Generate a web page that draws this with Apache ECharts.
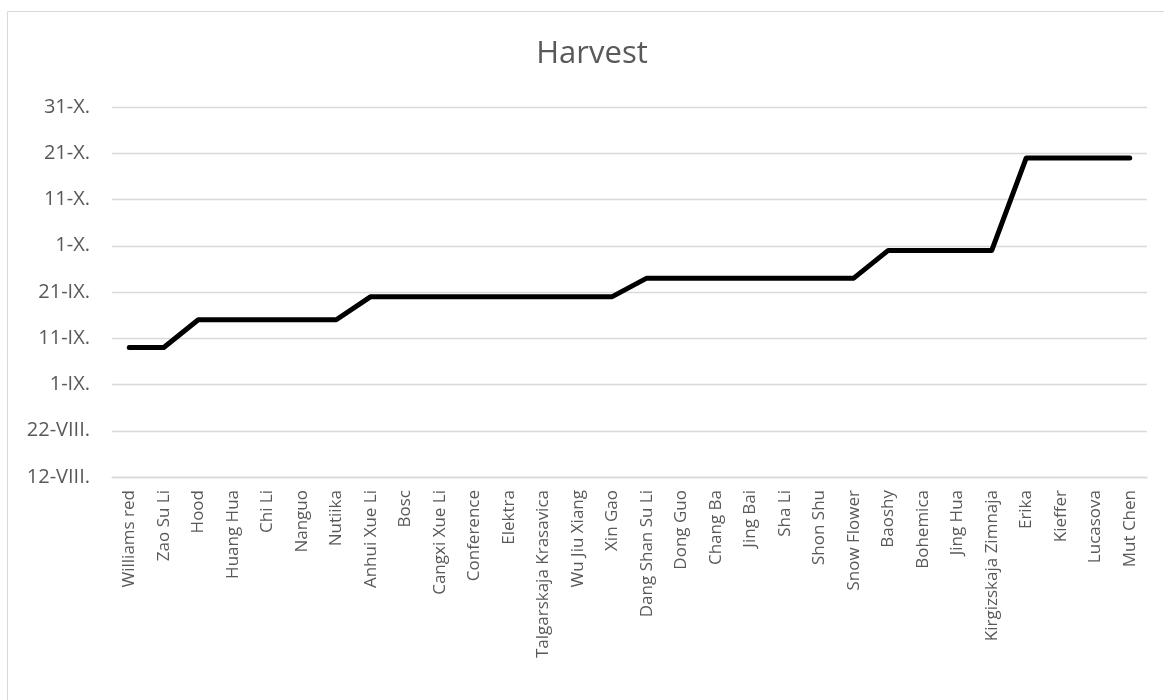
<!DOCTYPE html>
<html>
<head>
<meta charset="utf-8">
<title>Harvest</title>
<script src="https://cdn.jsdelivr.net/npm/echarts@6/dist/echarts.min.js"></script>
<style>
  html, body { margin: 0; padding: 0; background: #ffffff; }
  #chart { width: 1164px; height: 700px; }
</style>
</head>
<body>
<div id="chart"></div>
<script>
// Pear varieties in order of ripening
const varieties = [
  'Williams red', 'Zao Su Li', 'Hood', 'Huang Hua', 'Chi Li', 'Nanguo', 'Nutiika',
  'Anhui Xue Li', 'Bosc', 'Cangxi Xue Li', 'Conference', 'Elektra',
  'Talgarskaja Krasavica', 'Wu Jiu Xiang', 'Xin Gao', 'Dang Shan Su Li',
  'Dong Guo', 'Chang Ba', 'Jing Bai', 'Sha Li', 'Shon Shu', 'Snow Flower',
  'Baoshy', 'Bohemica', 'Jing Hua', 'Kirgizskaja Zimnaja', 'Erika', 'Kieffer',
  'Lucasova', 'Mut Chen'
];

// Harvest date, counted in days after 12 August
const harvestDay = [
  28, 28, 34, 34, 34, 34, 34,
  39, 39, 39, 39, 39, 39, 39, 39,
  43, 43, 43, 43, 43, 43, 43,
  49, 49, 49, 49,
  69, 69, 69, 69
];

// Date labels for the value axis, one every 10 days starting at 12 August
const dateTicks = ['12-VIII.', '22-VIII.', '1-IX.', '11-IX.', '21-IX.', '1-X.', '11-X.', '21-X.', '31-X.'];

const textColor = '#595959';
const gridColor = '#d9d9d9';
const fontFamily = '"Open Sans", "Noto Sans", sans-serif';

const chart = echarts.init(document.getElementById('chart'), null, { renderer: 'canvas' });

chart.setOption({
  backgroundColor: '#ffffff',
  animation: false,
  title: {
    text: 'Harvest',
    left: 587,
    top: 34,
    textAlign: 'center',
    textStyle: { color: textColor, fontSize: 31, fontWeight: 'normal', fontFamily: fontFamily }
  },
  graphic: [{
    type: 'rect',
    silent: true,
    z: -1,
    shape: { x: 7.5, y: 11.5, width: 1170, height: 700 },
    style: { fill: 'none', stroke: gridColor, lineWidth: 1 }
  }],
  grid: { left: 112, right: 17, top: 107, height: 370, containLabel: false },
  xAxis: {
    type: 'category',
    data: varieties,
    boundaryGap: true,
    axisLine: { show: true, lineStyle: { color: gridColor, width: 1.3 } },
    axisTick: { show: false },
    axisLabel: {
      interval: 0,
      rotate: 90,
      margin: 13,
      color: textColor,
      fontSize: 17,
      fontFamily: fontFamily
    }
  },
  yAxis: {
    type: 'value',
    min: 0,
    max: 80,
    interval: 10,
    axisLine: { show: false },
    axisTick: { show: false },
    splitLine: { lineStyle: { color: gridColor, width: 1.3 } },
    axisLabel: {
      margin: 22,
      color: textColor,
      fontSize: 20,
      fontFamily: fontFamily,
      formatter: function (v) { return dateTicks[Math.round(v / 10)]; }
    }
  },
  series: [{
    type: 'line',
    data: harvestDay,
    showSymbol: false,
    symbol: 'none',
    lineStyle: { color: '#000000', width: 5, cap: 'round', join: 'round' }
  }]
});
</script>
</body>
</html>
